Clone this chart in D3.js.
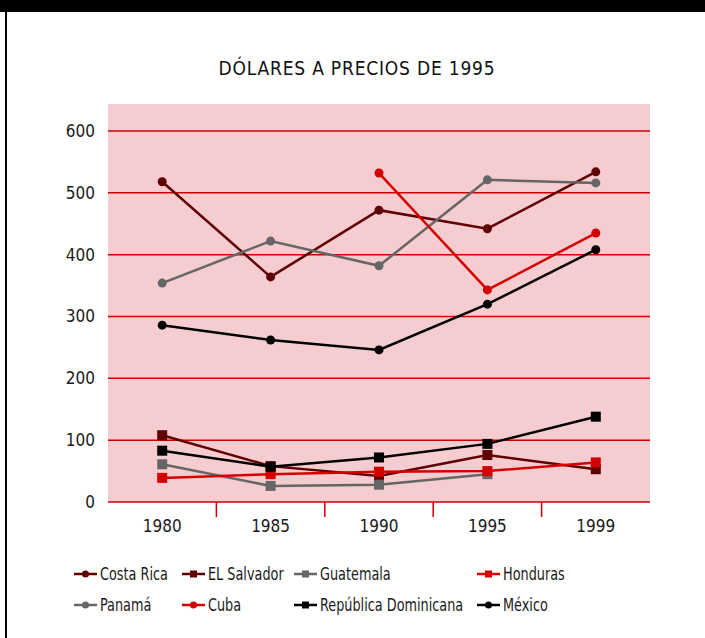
<!DOCTYPE html>
<html>
<head>
<meta charset="utf-8">
<script src="https://cdn.jsdelivr.net/npm/d3@7"></script>
<style>
  html, body { margin: 0; background: #fff; overflow: hidden; }
  svg { display: block; }
  text { font-family: "DejaVu Sans Condensed", "DejaVu Sans", sans-serif; font-stretch: condensed; fill: #1a1a1a; }
</style>
</head>
<body>
<svg id="chart" width="705" height="638"></svg>
<script>
const years = ['1980', '1985', '1990', '1995', '1999'];
const yTicks = [0, 100, 200, 300, 400, 500, 600];

const costaRica   = [518, 364, 472, 442, 534];
const panama      = [354, 422, 382, 521, 516];
const cuba        = [null, null, 532, 343, 435];
const mexico      = [286, 262, 246, 320, 408];
const elSalvador  = [108, 58, 42, 76, 53];
const repDom      = [83, 57, 72, 94, 138];
const guatemala   = [61, 26, 28, 45, null];
const honduras    = [39, 45, 49, 50, 64];

const series = [
  { name: 'Costa Rica', values: costaRica, color: '#600000', shape: 'circle' },
  { name: 'EL Salvador', values: elSalvador, color: '#600000', shape: 'square' },
  { name: 'Guatemala', values: guatemala, color: '#666666', shape: 'square' },
  { name: 'Honduras', values: honduras, color: '#d40000', shape: 'square' },
  { name: 'Panamá', values: panama, color: '#666666', shape: 'circle' },
  { name: 'Cuba', values: cuba, color: '#d40000', shape: 'circle' },
  { name: 'República Dominicana', values: repDom, color: '#000000', shape: 'square' },
  { name: 'México', values: mexico, color: '#000000', shape: 'circle' }
];

const svg = d3.select('#chart');
const plot = { left: 108, right: 650, top: 104, bottom: 502 };

// marco
svg.append('rect').attr('x', 0).attr('y', 0).attr('width', 705).attr('height', 12).style('fill', '#000');
svg.append('rect').attr('x', 5).attr('y', 12).attr('width', 2).attr('height', 626).style('fill', '#000');

svg.append('text')
  .attr('x', 357).attr('y', 75)
  .style('text-anchor', 'middle').style('font-size', '19px')
  .style('letter-spacing', '0.8px')
  .style('fill', '#111')
  .text('DÓLARES A PRECIOS DE 1995');

const x = d3.scaleBand().domain(years).range([plot.left, plot.right]);
const y = d3.scaleLinear().domain([0, 600]).range([plot.bottom, 131]);

svg.append('rect')
  .attr('x', plot.left).attr('y', plot.top)
  .attr('width', plot.right - plot.left).attr('height', plot.bottom - plot.top)
  .style('fill', '#f5cccf');

// rejilla
svg.append('g').selectAll('line').data(yTicks.filter(d => d > 0)).join('line')
  .attr('x1', plot.left).attr('x2', plot.right)
  .attr('y1', d => y(d)).attr('y2', d => y(d))
  .style('stroke', '#cc0000').style('stroke-width', 1.5);

// eje y
const yAxis = svg.append('g')
  .attr('transform', `translate(${plot.left},0)`)
  .call(d3.axisLeft(y).tickValues(yTicks).tickSize(0).tickPadding(13));
yAxis.select('.domain').remove();
yAxis.selectAll('text').style('font-size', '17px').style('fill', '#1a1a1a')
  .style('font-family', '"DejaVu Sans Condensed", "DejaVu Sans", sans-serif');

// eje x
svg.append('line')
  .attr('x1', plot.left).attr('x2', plot.right)
  .attr('y1', plot.bottom).attr('y2', plot.bottom)
  .style('stroke', '#cc0000').style('stroke-width', 1.5);
svg.append('g').selectAll('line').data(years.slice(1)).join('line')
  .attr('x1', d => x(d)).attr('x2', d => x(d))
  .attr('y1', plot.bottom).attr('y2', plot.bottom + 15)
  .style('stroke', '#cc0000').style('stroke-width', 1.5);
svg.append('g').selectAll('text').data(years).join('text')
  .attr('x', d => x(d) + x.bandwidth() / 2).attr('y', 532)
  .style('text-anchor', 'middle').style('font-size', '17px')
  .text(d => d);

const cx = d => x(d) + x.bandwidth() / 2;

const line = d3.line()
  .defined(d => d.v != null)
  .x(d => cx(d.year))
  .y(d => y(d.v));

series.forEach(s => {
  const pts = years.map((yr, i) => ({ year: yr, v: s.values[i] }));
  svg.append('path')
    .datum(pts)
    .attr('d', line)
    .style('fill', 'none').style('stroke', s.color).style('stroke-width', 2.5);
  const valid = pts.filter(p => p.v != null);
  if (s.shape === 'circle') {
    svg.append('g').selectAll('circle').data(valid).join('circle')
      .attr('cx', d => cx(d.year)).attr('cy', d => y(d.v)).attr('r', 4.5)
      .style('fill', s.color);
  } else {
    svg.append('g').selectAll('rect').data(valid).join('rect')
      .attr('x', d => cx(d.year) - 5).attr('y', d => y(d.v) - 5)
      .attr('width', 10).attr('height', 10)
      .style('fill', s.color);
  }
});

// leyenda
const legendCols = [74, 182, 294, 477];
const legendRows = [574, 605];
series.forEach((s, i) => {
  const lx = legendCols[i % 4];
  const ly = legendRows[Math.floor(i / 4)];
  const g = svg.append('g').attr('transform', `translate(${lx},${ly})`);
  g.append('line').attr('x1', 0).attr('x2', 23).attr('y1', 0).attr('y2', 0)
    .style('stroke', s.color).style('stroke-width', 2.5);
  if (s.shape === 'circle') {
    g.append('circle').attr('cx', 11.5).attr('cy', 0).attr('r', 3.5).style('fill', s.color);
  } else {
    g.append('rect').attr('x', 8).attr('y', -3.5).attr('width', 7).attr('height', 7).style('fill', s.color);
  }
  g.append('text')
    .attr('transform', 'translate(26,6) scale(0.84,1)')
    .style('font-size', '17px').text(s.name);
});
</script>
</body>
</html>
